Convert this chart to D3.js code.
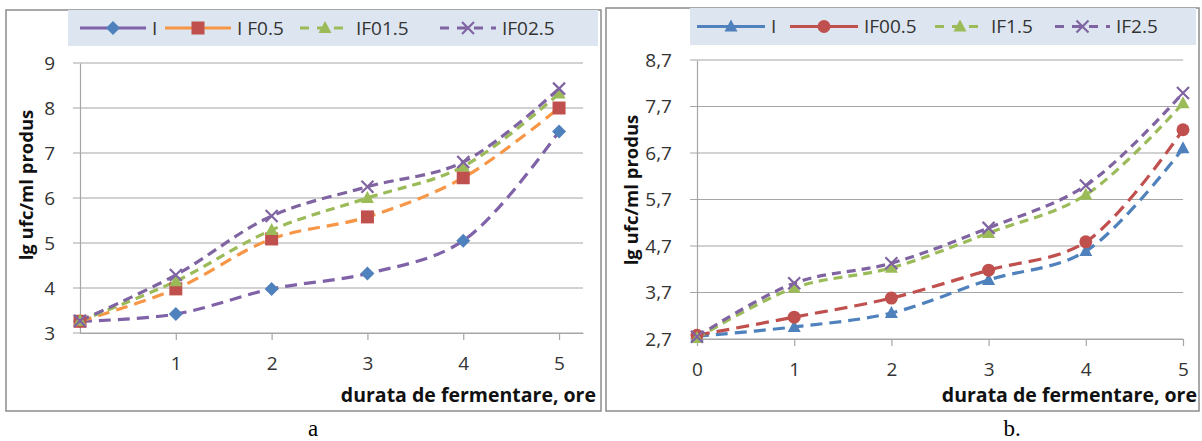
<!DOCTYPE html>
<html>
<head>
<meta charset="utf-8">
<script src="https://cdn.jsdelivr.net/npm/d3@7"></script>
<style>
  body { margin: 0; background: #fff; }
  svg { display: block; font-family: "Open Sans", sans-serif; }
</style>
</head>
<body>
<svg id="chart" width="1202" height="441"></svg>
<script>
// hours of fermentation
var hours = [0, 1, 2, 3, 4, 5];

// chart a values
var namesA = ['I', 'I F0.5', 'IF01.5', 'IF02.5'];
var aI     = [3.26, 3.42, 3.98, 4.32, 5.05, 7.48];
var aIF05  = [3.26, 3.98, 5.09, 5.58, 6.45, 8.0];
var aIF15  = [3.27, 4.15, 5.29, 6.0, 6.7, 8.32];
var aIF25  = [3.27, 4.29, 5.6, 6.25, 6.8, 8.43];
var yTicksA = [3, 4, 5, 6, 7, 8, 9];
var xTicksA = [1, 2, 3, 4, 5];

// chart b values
var namesB = ['I', 'IF00.5', 'IF1.5', 'IF2.5'];
var bI     = [2.76, 2.96, 3.26, 3.97, 4.59, 6.8];
var bIF05  = [2.78, 3.17, 3.58, 4.18, 4.79, 7.2];
var bIF15  = [2.72, 3.8, 4.23, 4.98, 5.8, 7.77];
var bIF25  = [2.75, 3.9, 4.33, 5.09, 6.0, 7.99];
var yTicksB = [2.7, 3.7, 4.7, 5.7, 6.7, 7.7, 8.7];
var xTicksB = [0, 1, 2, 3, 4, 5];

var svg = d3.select('#chart');

/**
 * Draw one marker symbol at (0,0) inside group g.
 */
var drawMarker = function(g, type, color) {
  if (type === 'diamond') {
    g.append('path').attr('d', 'M0,-7L7,0L0,7L-7,0Z').attr('fill', color);
  } else if (type === 'square') {
    g.append('rect').attr('x', -6.5).attr('y', -6.5).attr('width', 13).attr('height', 13).attr('fill', color);
  } else if (type === 'triangle') {
    g.append('path').attr('d', 'M0,-7L6.5,5L-6.5,5Z').attr('fill', color);
  } else if (type === 'circle') {
    g.append('circle').attr('r', 6.5).attr('fill', color);
  } else if (type === 'x') {
    g.append('path').attr('d', 'M-6,-6L6,6M-6,6L6,-6')
      .attr('stroke', color).attr('stroke-width', 2.2).attr('fill', 'none');
  }
};

/**
 * Draw a full panel: frame, legend, grid, axes, series.
 */
var drawPanel = function(cfg) {
  var p = svg.append('g');

  // outer frame
  p.append('rect').attr('x', cfg.frame[0]).attr('y', cfg.frame[1])
    .attr('width', cfg.frame[2]).attr('height', cfg.frame[3])
    .attr('fill', '#fff').attr('stroke', '#8c8c8c').attr('stroke-width', 1.5);

  // legend band
  p.append('rect').attr('x', cfg.legend[0]).attr('y', cfg.legend[1])
    .attr('width', cfg.legend[2]).attr('height', cfg.legend[3])
    .attr('fill', '#dde5f0');

  var x = d3.scaleLinear().domain(cfg.xDomain).range([cfg.left, cfg.right]);
  var y = d3.scaleLinear().domain(cfg.yDomain).range([cfg.bottom, cfg.top]);

  // horizontal grid lines
  p.append('g').selectAll('line').data(cfg.yTicks).enter().append('line')
    .attr('x1', cfg.left - 7).attr('x2', cfg.right)
    .attr('y1', function(d) { return y(d); }).attr('y2', function(d) { return y(d); })
    .attr('stroke', '#a6a6a6').attr('stroke-width', 1.2);

  // y axis
  var yAxis = d3.axisLeft(y).tickValues(cfg.yTicks).tickSize(0).tickPadding(25)
    .tickFormat(cfg.yFormat);
  var ya = p.append('g').attr('transform', 'translate(' + cfg.left + ',0)').call(yAxis);
  ya.select('.domain').attr('stroke', '#a6a6a6').attr('stroke-width', 1.2);
  ya.selectAll('text').attr('font-size', 19).attr('fill', '#333').attr('font-family', '"Open Sans", sans-serif');

  // x axis
  var xAxis = d3.axisBottom(x).tickValues(cfg.xTicks).tickSize(7).tickSizeOuter(0)
    .tickPadding(17).tickFormat(d3.format('d'));
  var xa = p.append('g').attr('transform', 'translate(0,' + cfg.bottom + ')').call(xAxis);
  xa.select('.domain').attr('stroke', '#a6a6a6').attr('stroke-width', 1.2);
  xa.selectAll('line').attr('stroke', '#a6a6a6').attr('stroke-width', 1.2);
  xa.selectAll('text').attr('font-size', 19).attr('fill', '#333').attr('font-family', '"Open Sans", sans-serif');

  // axis titles
  p.append('text').attr('x', cfg.xTitle[0]).attr('y', cfg.xTitle[1])
    .attr('text-anchor', 'end').attr('font-weight', 'bold').attr('font-size', 19.5)
    .attr('fill', '#111').text('durata de fermentare, ore');
  p.append('text')
    .attr('transform', 'translate(' + cfg.yTitle[0] + ',' + cfg.yTitle[1] + ') rotate(-90)')
    .attr('text-anchor', 'middle').attr('font-weight', 'bold').attr('font-size', 18.5)
    .attr('fill', '#111').text('lg ufc/ml produs');

  // series lines
  var line = d3.line()
    .x(function(d, i) { return x(hours[i]); })
    .y(function(d) { return y(d); })
    .curve(d3.curveCatmullRom.alpha(0.5));

  cfg.series.forEach(function(s) {
    p.append('path').datum(s.values).attr('d', line)
      .attr('fill', 'none').attr('stroke', s.line).attr('stroke-width', 3.2)
      .attr('stroke-dasharray', s.dash);
  });
  cfg.series.forEach(function(s) {
    s.values.forEach(function(v, i) {
      var g = p.append('g').attr('transform', 'translate(' + x(hours[i]) + ',' + y(v) + ')');
      drawMarker(g, s.marker, s.fill);
    });
  });

  // legend entries
  cfg.series.forEach(function(s, i) {
    var lx = cfg.legendX[i], ly = cfg.legend[1] + cfg.legend[3] / 2;
    p.append('line').attr('x1', lx).attr('x2', lx + cfg.legendLen[i])
      .attr('y1', ly).attr('y2', ly)
      .attr('stroke', s.line).attr('stroke-width', 3)
      .attr('stroke-dasharray', s.legendDash);
    var g = p.append('g').attr('transform', 'translate(' + (lx + cfg.legendLen[i] / 2) + ',' + ly + ')');
    drawMarker(g, s.marker, s.fill);
    p.append('text').attr('x', lx + cfg.legendLen[i] + 6).attr('y', ly + 6.5)
      .attr('font-size', 19).attr('fill', '#333').text(s.name);
  });

  // panel caption
  svg.append('text').attr('x', cfg.caption[0]).attr('y', cfg.caption[1])
    .attr('text-anchor', 'middle').attr('font-family', '"Liberation Serif", serif')
    .attr('font-size', 23).attr('fill', '#000').text(cfg.caption[2]);
};

drawPanel({
  frame: [6, 10, 595, 401],
  legend: [68, 10, 530, 36],
  left: 80, right: 583, top: 63, bottom: 333,
  xDomain: [0, 5.25], yDomain: [3, 9],
  yTicks: yTicksA, xTicks: xTicksA,
  yFormat: d3.format('d'),
  xTitle: [596, 402], yTitle: [33, 185],
  legendX: [80, 165, 300, 440], legendLen: [66, 66, 50, 56],
  caption: [313, 436, 'a'],
  series: [
    { name: namesA[0], values: aI,    line: '#7f62a8', fill: '#4f81bd', marker: 'diamond',  dash: '12,7', legendDash: null },
    { name: namesA[1], values: aIF05, line: '#f79646', fill: '#c0504d', marker: 'square',   dash: '12,7', legendDash: null },
    { name: namesA[2], values: aIF15, line: '#9bbb59', fill: '#9bbb59', marker: 'triangle', dash: '9,6',  legendDash: '9,8' },
    { name: namesA[3], values: aIF25, line: '#8064a2', fill: '#8064a2', marker: 'x',        dash: '10,6', legendDash: '9,8' }
  ]
});

drawPanel({
  frame: [606, 8, 593, 403],
  legend: [690, 8, 506, 37],
  left: 697, right: 1183, top: 60, bottom: 339,
  xDomain: [0, 5], yDomain: [2.7, 8.7],
  yTicks: yTicksB, xTicks: xTicksB,
  yFormat: function(d) { return d3.format('.1f')(d).replace('.', ','); },
  xTitle: [1197, 402], yTitle: [638, 190],
  legendX: [697, 790, 935, 1055], legendLen: [68, 68, 50, 55],
  caption: [1012, 436, 'b.'],
  series: [
    { name: namesB[0], values: bI,    line: '#4f81bd', fill: '#4f81bd', marker: 'triangle', dash: '12,7', legendDash: null },
    { name: namesB[1], values: bIF05, line: '#c0504d', fill: '#c0504d', marker: 'circle',   dash: '13,7', legendDash: null },
    { name: namesB[2], values: bIF15, line: '#9bbb59', fill: '#9bbb59', marker: 'triangle', dash: '9,6',  legendDash: '9,8' },
    { name: namesB[3], values: bIF25, line: '#8064a2', fill: '#8064a2', marker: 'x',        dash: '9,6',  legendDash: '9,8' }
  ]
});
</script>
</body>
</html>
